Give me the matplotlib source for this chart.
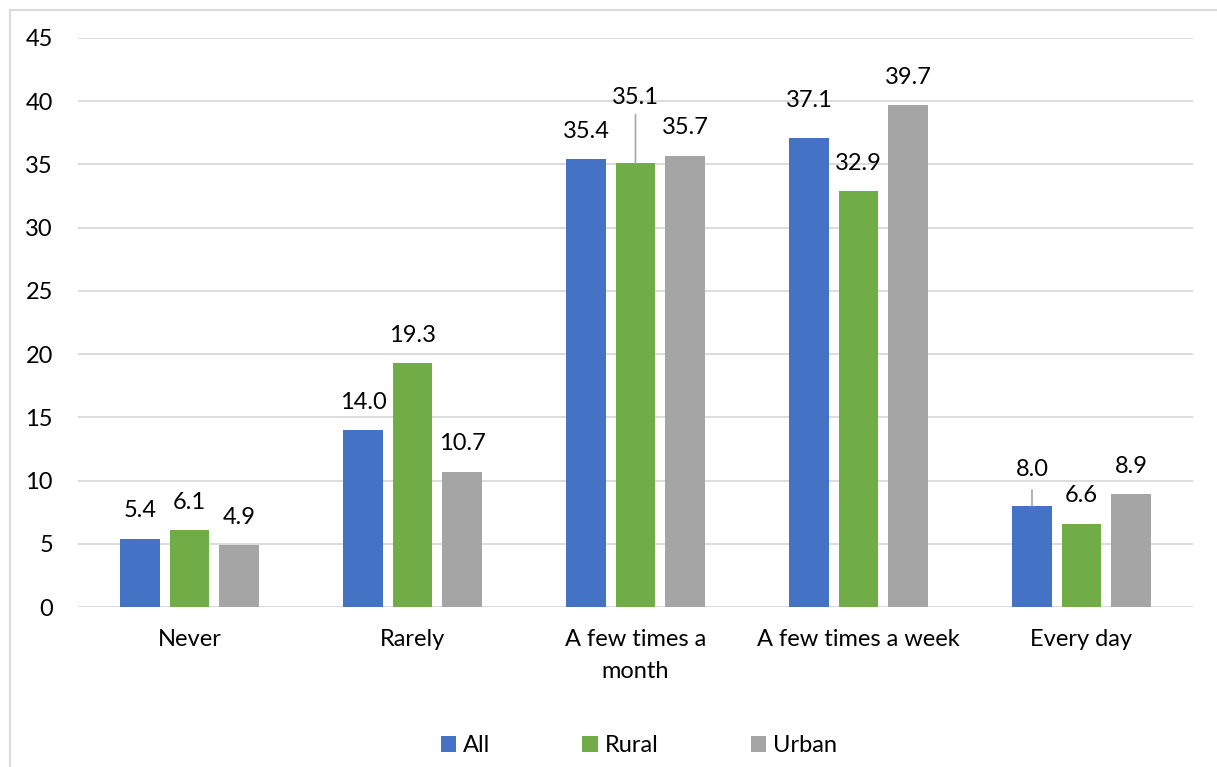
import matplotlib.pyplot as plt
from matplotlib.lines import Line2D
import numpy as np

categories = ["Never", "Rarely", "A few times a\nmonth", "A few times a week", "Every day"]
series_names = ["All", "Rural", "Urban"]
all_vals = [5.4, 14.0, 35.4, 37.1, 8.0]
rural_vals = [6.1, 19.3, 35.1, 32.9, 6.6]
urban_vals = [4.9, 10.7, 35.7, 39.7, 8.9]
colors = ["#4472c4", "#70ad47", "#a5a5a5"]

plt.rcParams['font.family'] = ['Lato', 'DejaVu Sans']

W, H = 1217, 767
fig = plt.figure(figsize=(W / 100, H / 100), dpi=100)
ax = fig.add_axes([78 / W, 1 - 607 / H, (1193 - 78) / W, (607 - 38) / H])

x = np.arange(len(categories))
width = 0.175
step = 0.222
series = [all_vals, rural_vals, urban_vals]
fs = 17

for i, (vals, name, c) in enumerate(zip(series, series_names, colors)):
    ax.bar(x + (i - 1) * step, vals, width, color=c, label=name, zorder=3)

# data labels; two of them are pushed up with a leader line like the original
offsets = {(1, 2): 47, (0, 4): 26, (0, 3): 27}
leaders = {(1, 2): 35, (0, 4): 11.5}
for i, vals in enumerate(series):
    for j, v in enumerate(vals):
        xp = x[j] + (i - 1) * step
        off = offsets.get((i, j), 20)
        ax.annotate(f"{v:.1f}", (xp, v), xytext=(0, off), textcoords="offset points",
                    ha="center", va="center", fontsize=fs, color="#000000")
        if (i, j) in leaders:
            ax.annotate("", (xp, v), xytext=(0, leaders[(i, j)]), textcoords="offset points",
                        arrowprops=dict(arrowstyle="-", color="#a6a6a6", lw=1.2,
                                        shrinkA=0, shrinkB=0))

ax.set_xlim(-0.5, 4.5)
ax.set_ylim(0, 45)
ax.set_yticks(np.arange(0, 46, 5))
ax.set_xticks(x)
ax.set_xticklabels(categories, fontsize=fs, linespacing=1.65)
ax.tick_params(axis="both", length=0, labelsize=fs, colors="#000000")
ax.tick_params(axis="x", pad=16)
ax.tick_params(axis="y", pad=18)
ax.yaxis.grid(True, color="#d9d9d9", lw=1.3, zorder=0)
for s in ax.spines.values():
    s.set_visible(False)

fig.legend(loc="center", bbox_to_anchor=(0.525, 1 - 746 / H), ncol=3, frameon=False,
           fontsize=fs, handlelength=0.65, handleheight=0.65, columnspacing=3.9,
           handletextpad=0.3)

# chart-area border, cropped on the right and bottom
fig.add_artist(Line2D([10 / W, 10 / W], [0, 1 - 10 / H], transform=fig.transFigure,
                      color="#d9d9d9", lw=1.5))
fig.add_artist(Line2D([10 / W, 1], [1 - 10 / H, 1 - 10 / H], transform=fig.transFigure,
                      color="#d9d9d9", lw=1.5))

fig.savefig("out.png", dpi=100)
